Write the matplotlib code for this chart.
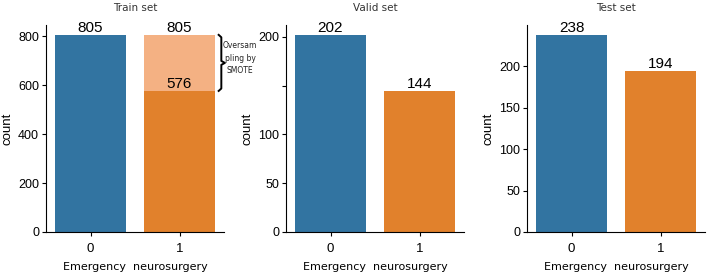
import matplotlib
matplotlib.use("Agg")
import matplotlib.pyplot as plt
import numpy as np

# Class counts per split (Emergency neurosurgery 0 / 1)
categories = ["0", "1"]
titles = ["Train set", "Valid set", "Test set"]
train_counts = [805, 576]
train_smote = 805  # class 1 after SMOTE oversampling
valid_counts = [202, 144]
test_counts = [238, 194]
yticks_train = [0, 200, 400, 600, 800]
yticks_valid = [0, 50, 100, 150, 200]
yticks_test = [0, 50, 100, 150, 200]

BLUE = "#3274a1"
ORANGE = "#e1812c"
LIGHT_ORANGE = "#f4b183"
NUM_FONT = ["Liberation Sans", "DejaVu Sans"]

fig = plt.figure(figsize=(7.08, 2.72), dpi=100)
W, H = 708, 272


def make_axes(left_px, width_px=178, top_px=25, bottom_px=232):
    return fig.add_axes([left_px / W, 1 - bottom_px / H,
                         width_px / W, (bottom_px - top_px) / H])


def style(ax, title, yticks, hide=()):
    x = np.arange(len(categories))
    ax.set_xticks(x)
    ax.set_xticklabels(categories, fontsize=9.5, family=NUM_FONT)
    ax.set_yticks(yticks)
    ax.set_yticklabels(["" if t in hide else str(t) for t in yticks],
                       fontsize=9, family=NUM_FONT)
    ax.set_xlim(-0.5, 1.5)
    ax.set_ylabel("count", fontsize=9.5, family=NUM_FONT, labelpad=3)
    ax.set_xlabel("Emergency  neurosurgery", fontsize=8, labelpad=5)
    ax.set_title(title, fontsize=7.5, pad=10, color="#333333")
    for s in ("top", "right"):
        ax.spines[s].set_visible(False)
    ax.tick_params(length=3, width=0.8)
    ax.tick_params(axis="x", pad=5)
    ax.tick_params(axis="y", pad=2)


def label(ax, x, v):
    ax.text(x, v, str(v), ha="center", va="bottom", fontsize=11,
            family=NUM_FONT, color="black")


# Train set with SMOTE stack
ax1 = make_axes(46)
x = np.arange(len(categories))
ax1.bar(x[0], train_counts[0], width=0.8, color=BLUE)
ax1.bar(x[1], train_counts[1], width=0.8, color=ORANGE)
ax1.bar(x[1], train_smote - train_counts[1], bottom=train_counts[1],
        width=0.8, color=LIGHT_ORANGE)
ax1.set_ylim(0, train_smote * 1.05)
style(ax1, titles[0], yticks_train)
label(ax1, x[0], train_counts[0])
label(ax1, x[1], train_smote)
label(ax1, x[1], train_counts[1])

# bracket + annotation for the oversampled part
mid = (train_smote + train_counts[1]) / 2
bx = 1.44
ax1.plot([bx, bx + 0.03, bx + 0.03, bx + 0.07, bx + 0.03, bx + 0.03, bx],
         [train_smote, train_smote - 10, mid + 8, mid, mid - 8,
          train_counts[1] + 10, train_counts[1]],
         color="black", lw=1.4, clip_on=False, solid_joinstyle="round")
ax1.text(1.68, mid + 20, "Oversam\npling by\nSMOTE", ha="center",
         va="center", fontsize=5.5, linespacing=1.5, clip_on=False,
         color="#222222")

# Valid set
ax2 = make_axes(286)
ax2.bar(x, valid_counts, width=0.8, color=[BLUE, ORANGE])
style(ax2, titles[1], yticks_valid, hide=(150,))
ax2.set_ylim(0, max(valid_counts) * 1.05)
for i, v in enumerate(valid_counts):
    label(ax2, x[i], v)

# Test set
ax3 = make_axes(527)
ax3.bar(x, test_counts, width=0.8, color=[BLUE, ORANGE])
style(ax3, titles[2], yticks_test)
ax3.set_ylim(0, max(test_counts) * 1.05)
for i, v in enumerate(test_counts):
    label(ax3, x[i], v)

fig.savefig("out.png", dpi=100)
